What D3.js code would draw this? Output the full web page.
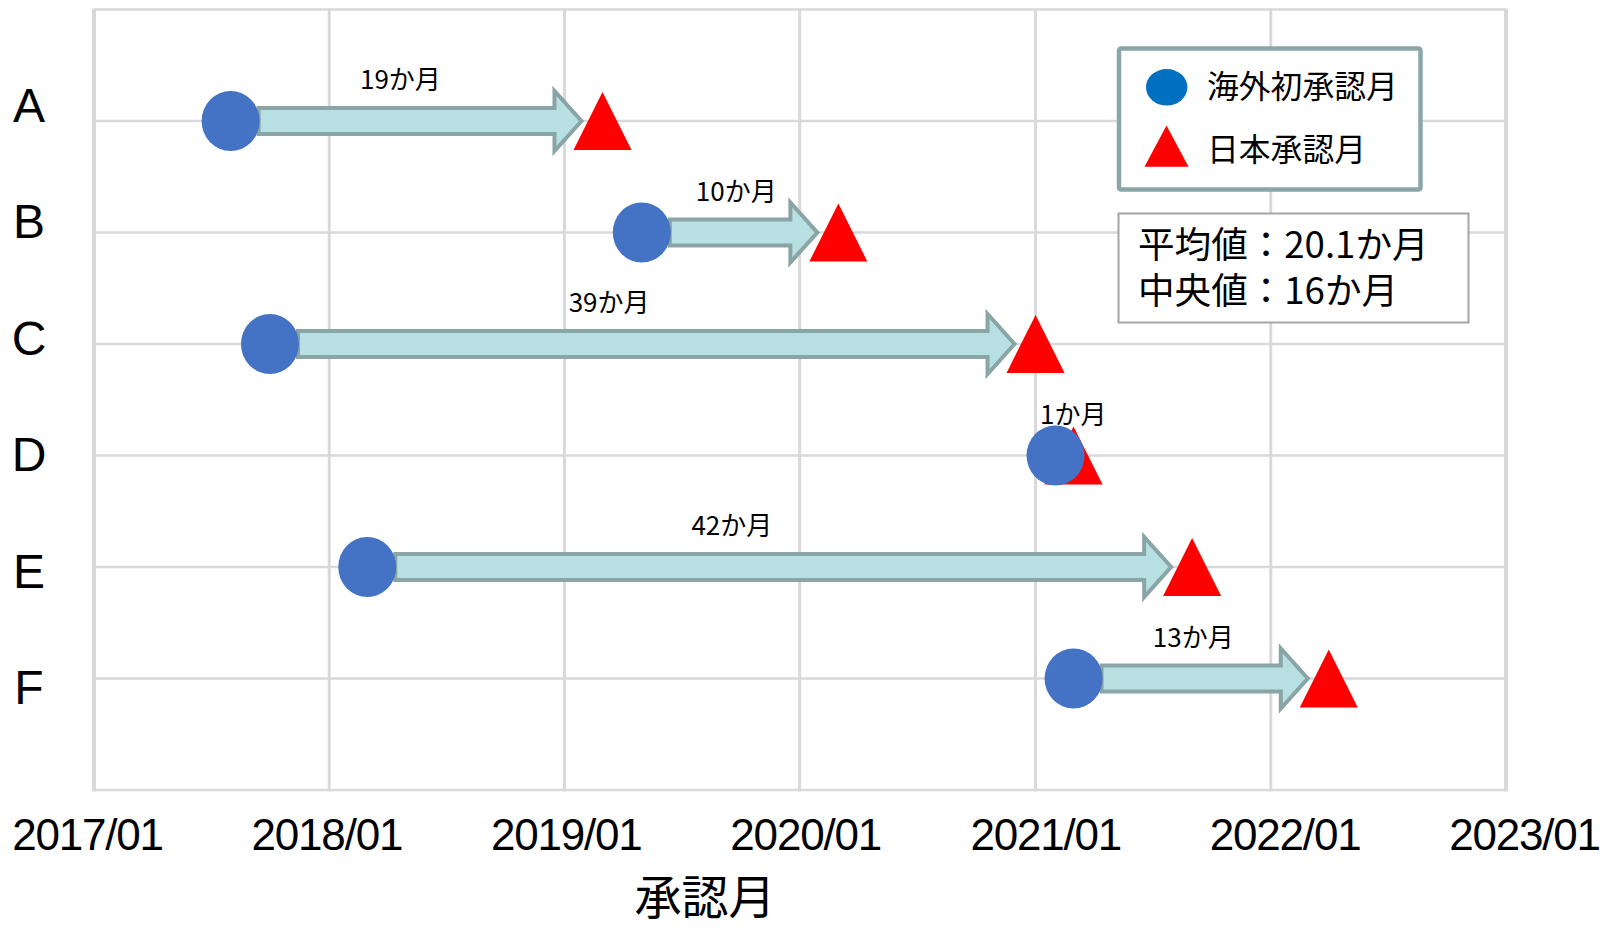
<!DOCTYPE html>
<html lang="ja">
<head>
<meta charset="utf-8">
<script src="https://cdn.jsdelivr.net/npm/d3@7"></script>
<style>
  html, body { margin: 0; padding: 0; background: #fff; }
  svg { display: block; }
</style>
</head>
<body>
<svg id="chart" width="1602" height="928"></svg>
<script>
// Products and their approval months
const categories = ["A", "B", "C", "D", "E", "F"];
const overseasApproval = ["2017/08", "2019/05", "2017/10", "2021/02", "2018/03", "2021/03"];
const japanApproval    = ["2019/03", "2020/03", "2021/01", "2021/03", "2021/09", "2022/04"];
const xTickLabels = ["2017/01", "2018/01", "2019/01", "2020/01", "2021/01", "2022/01", "2023/01"];
const legendLabels = ["海外初承認月", "日本承認月"];
const statLines = ["平均値：20.1か月", "中央値：16か月"];
const axisTitle = "承認月";

const parse = d3.utcParse("%Y/%m");
const fmt = d3.utcFormat("%Y/%m");
const monthsBetween = (a, b) => (b.getUTCFullYear() - a.getUTCFullYear()) * 12 + (b.getUTCMonth() - a.getUTCMonth());

const rows = categories.map((c, i) => {
  const start = parse(overseasApproval[i]);
  const end = parse(japanApproval[i]);
  return { cat: c, start, end, lag: monthsBetween(start, end) };
});
const tickDates = xTickLabels.map(parse);

const svg = d3.select("#chart");
const plot = { left: 94, right: 1506, top: 9.5, bottom: 790 };
const CJK = "'Noto Sans CJK JP', 'Noto Sans', sans-serif";
const LATIN = "'Liberation Sans', Arial, sans-serif";

// Scales
const x = d3.scaleUtc().domain(d3.extent(tickDates)).range([plot.left, plot.right]);
const xLabel = d3.scaleUtc().domain(x.domain()).range([87, 1524]);
const rowStep = (plot.bottom - plot.top) / (categories.length + 1);
const y = d3.scalePoint().domain(categories)
  .range([plot.top + rowStep, plot.bottom - rowStep]);
const yLabel = d3.scalePoint().domain(categories).range([122, 704]);

// Grid
const grid = svg.append("g").attr("class", "grid");
const hLines = d3.range(categories.length + 2).map(i => plot.top + i * rowStep);
grid.selectAll("line.h").data(hLines).join("line")
  .attr("class", "h")
  .attr("x1", plot.left).attr("x2", plot.right)
  .attr("y1", d => d).attr("y2", d => d)
  .attr("stroke", "#d9d9d9").attr("stroke-width", 2.5);
grid.selectAll("line.v").data(tickDates).join("line")
  .attr("class", "v")
  .attr("x1", d => x(d)).attr("x2", d => x(d))
  .attr("y1", plot.top - 1).attr("y2", plot.bottom + 1.5)
  .attr("stroke", "#d9d9d9")
  .attr("stroke-width", (d, i) => (i === 0 || i === tickDates.length - 1) ? 4 : 3);

// X axis labels
const xAxis = d3.axisBottom(xLabel).tickValues(tickDates).tickFormat(fmt).tickSize(0).tickPadding(0);
const gx = svg.append("g").attr("transform", "translate(0,850)").call(xAxis);
gx.select(".domain").remove();
gx.selectAll("text")
  .attr("dy", null)
  .attr("y", 0)
  .attr("font-size", 44)
  .attr("letter-spacing", "-1.2px")
  .attr("fill", "#000")
  .attr("font-family", LATIN);

// Category labels
svg.append("g").selectAll("text").data(categories).join("text")
  .attr("x", 29).attr("y", d => yLabel(d))
  .attr("text-anchor", "middle")
  .attr("font-family", LATIN)
  .attr("font-size", 48)
  .attr("fill", "#000")
  .text(d => d);

// Axis title
svg.append("text")
  .attr("x", 705).attr("y", 914)
  .attr("text-anchor", "middle")
  .attr("font-family", CJK)
  .attr("font-size", 47)
  .attr("fill", "#000")
  .text(axisTitle);

// Arrows from overseas approval to Japanese approval
const shaftHalf = 13, headHalf = 30, headLen = 27;
function arrowGeom(d) {
  const x0 = x(d.start) + 28;
  const x1 = x(d.end) - 21;
  return { x0, x1, cy: y(d.cat) };
}
function arrowPath(d) {
  const { x0, x1, cy } = arrowGeom(d);
  const hb = x1 - headLen;
  return `M${x0},${cy - shaftHalf}L${hb},${cy - shaftHalf}L${hb},${cy - headHalf}L${x1},${cy}` +
         `L${hb},${cy + headHalf}L${hb},${cy + shaftHalf}L${x0},${cy + shaftHalf}Z`;
}
svg.append("g").selectAll("path")
  .data(rows.filter(d => arrowGeom(d).x1 - headLen > arrowGeom(d).x0)).join("path")
  .attr("d", arrowPath)
  .attr("fill", "#b8dfe1")
  .attr("stroke", "#8aa5a6")
  .attr("stroke-width", 4)
  .attr("stroke-linejoin", "miter");

// Lag labels
svg.append("g").selectAll("text").data(rows).join("text")
  .attr("x", d => { const g = arrowGeom(d); return g.x0 + 0.43 * (g.x1 - g.x0) + 3; })
  .attr("y", d => y(d.cat) - 32)
  .attr("text-anchor", "middle")
  .attr("font-family", CJK)
  .attr("font-size", 26)
  .attr("fill", "#000")
  .text(d => `${d.lag}か月`);

// Japanese approval (triangles)
const triHalfW = 29, triHalfH = 29;
svg.append("g").selectAll("path").data(rows).join("path")
  .attr("d", d => {
    const cx = x(d.end), cy = y(d.cat);
    return `M${cx},${cy - triHalfH}L${cx + triHalfW},${cy + triHalfH}L${cx - triHalfW},${cy + triHalfH}Z`;
  })
  .attr("fill", "#ff0000");

// Overseas first approval (circles)
svg.append("g").selectAll("ellipse").data(rows).join("ellipse")
  .attr("cx", d => x(d.start)).attr("cy", d => y(d.cat))
  .attr("rx", 29).attr("ry", 30)
  .attr("fill", "#4472c4");

// Legend
const lg = svg.append("g");
lg.append("rect")
  .attr("x", 1119).attr("y", 48.5).attr("width", 301.5).attr("height", 141)
  .attr("rx", 2)
  .attr("fill", "#fff").attr("stroke", "#8ba6a7").attr("stroke-width", 4.5);
lg.append("ellipse")
  .attr("cx", 1166.7).attr("cy", 87.3).attr("rx", 20.7).attr("ry", 18.3)
  .attr("fill", "#0070c0");
lg.append("path")
  .attr("d", "M1166.5,125.5L1188.5,166.7L1144.5,166.7Z")
  .attr("fill", "#ff0000");
lg.selectAll("text").data(legendLabels).join("text")
  .attr("x", 1207).attr("y", (d, i) => i === 0 ? 98 : 161)
  .attr("font-family", CJK)
  .attr("font-size", 31.8)
  .attr("fill", "#000")
  .text(d => d);

// Summary box: one text block, one line per statistic
const sb = svg.append("g");
sb.append("rect")
  .attr("x", 1118.5).attr("y", 213.5).attr("width", 350).attr("height", 109)
  .attr("fill", "#fff").attr("stroke", "#a6a6a6").attr("stroke-width", 2);
sb.append("text")
  .attr("font-family", CJK)
  .attr("font-size", 36.6)
  .attr("fill", "#000")
  .selectAll("tspan").data(statLines).join("tspan")
  .attr("x", 1138).attr("y", (d, i) => 258 + i * 46)
  .text(d => d);
</script>
</body>
</html>
